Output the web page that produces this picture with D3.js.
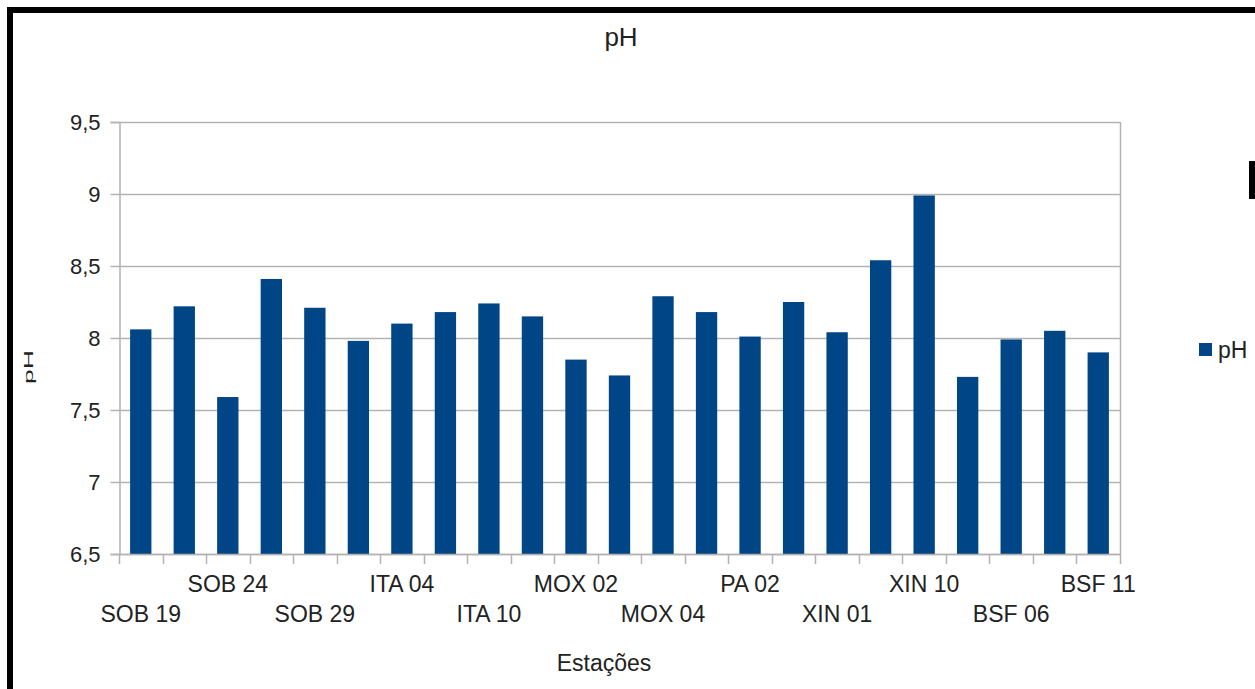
<!DOCTYPE html>
<html><head><meta charset="utf-8">
<script src="https://cdn.jsdelivr.net/npm/d3@7"></script>
<style>
html,body{margin:0;padding:0;background:#fff;}
svg{display:block;font-family:"Liberation Sans",Arial,sans-serif;}
</style></head>
<body>
<svg id="c" width="1255" height="689"></svg>
<script>
const categories = ["SOB 19","SOB 22","SOB 24","SOB 27","SOB 29","ITA 01","ITA 04","ITA 07","ITA 10","MOX 01","MOX 02","MOX 03","MOX 04","PA 01","PA 02","PA 03","XIN 01","XIN 05","XIN 10","BSF 02","BSF 06","BSF 09","BSF 11"];
const phValues = [8.06,8.22,7.59,8.41,8.21,7.98,8.10,8.18,8.24,8.15,7.85,7.74,8.29,8.18,8.01,8.25,8.04,8.54,8.99,7.73,7.99,8.05,7.90];
const yTicks = [6.5,7,7.5,8,8.5,9,9.5];
const seriesName = "pH";
const chartTitle = "pH";
const xTitle = "Estações";
const yTitle = "pH";

const svg = d3.select("#c");
const W = 1255, H = 689;
svg.append("rect").attr("width",W).attr("height",H).attr("fill","#fff");

const m = {left:119, right:1120, top:122, bottom:554};
const x = d3.scaleBand().domain(categories).range([m.left,m.right]).paddingInner(0).paddingOuter(0);
const y = d3.scaleLinear().domain([6.5,9.5]).range([m.bottom,m.top]);
const grid = "#b3b3b3";
const barColor = "#004586";
const txt = "#222";

// gridlines
svg.append("g").selectAll("line").data(yTicks).join("line")
  .attr("x1",m.left).attr("x2",m.right)
  .attr("y1",d=>Math.round(y(d))+0.5).attr("y2",d=>Math.round(y(d))+0.5)
  .attr("stroke",grid).attr("stroke-width",1.5);
// right border
svg.append("line").attr("x1",m.right+0.5).attr("x2",m.right+0.5).attr("y1",m.top).attr("y2",m.bottom)
  .attr("stroke",grid).attr("stroke-width",1.5);

// bars
const bw = x.bandwidth()*0.49;
svg.append("g").selectAll("rect").data(categories).join("rect")
  .attr("x",(d)=>x(d)+x.bandwidth()/2-bw/2)
  .attr("width",bw)
  .attr("y",(d,i)=>y(phValues[i]))
  .attr("height",(d,i)=>y(6.5)-y(phValues[i]))
  .attr("fill",barColor);

// y axis
const yAxis = d3.axisLeft(y).tickValues(yTicks).tickSize(9).tickPadding(10)
  .tickFormat(d=>String(d).replace(".",","));
const gy = svg.append("g").attr("transform",`translate(${m.left+0.5},0)`).call(yAxis);
gy.select(".domain").attr("stroke",grid).attr("stroke-width",1.5);
gy.selectAll(".tick line").attr("stroke",grid).attr("stroke-width",1.5);
gy.selectAll(".tick text").attr("font-size",22).attr("fill",txt)
  .attr("font-family","'Liberation Sans',Arial,sans-serif").attr("dy","0.36em");

// x axis (labels)
const xAxis = d3.axisBottom(x).tickSize(0).tickPadding(0)
  .tickFormat((d,i)=> i%2===0 ? d : "");
const gx = svg.append("g").attr("transform",`translate(0,${m.bottom})`).call(xAxis);
gx.select(".domain").remove();
gx.selectAll(".tick text").attr("font-size",23).attr("fill",txt)
  .attr("font-family","'Liberation Sans',Arial,sans-serif")
  .attr("dy",null)
  .attr("y",(d,i)=> (i%4===0) ? 68 : 38);
svg.append("line").attr("x1",m.left).attr("x2",m.right+1).attr("y1",m.bottom+0.5).attr("y2",m.bottom+0.5)
  .attr("stroke",grid).attr("stroke-width",1.5);
// boundary ticks
const bounds = categories.map(c=>x(c)).concat([x.range()[1]]);
svg.append("g").selectAll("line").data(bounds).join("line")
  .attr("x1",d=>Math.round(d)+0.5).attr("x2",d=>Math.round(d)+0.5)
  .attr("y1",m.bottom).attr("y2",m.bottom+10)
  .attr("stroke",grid).attr("stroke-width",1.5);

// titles
svg.append("text").attr("x",621).attr("y",46).attr("text-anchor","middle")
  .attr("font-size",26).attr("fill",txt).text(chartTitle);
svg.append("text").attr("x",604).attr("y",671).attr("text-anchor","middle")
  .attr("font-size",23).attr("fill",txt).text(xTitle);
svg.append("text").attr("transform","translate(33,367) rotate(-90) scale(1.15,0.55)")
  .attr("text-anchor","middle").attr("font-size",23).attr("fill",txt).text(yTitle);

// legend
svg.append("rect").attr("x",1199).attr("y",343).attr("width",13).attr("height",13).attr("fill",barColor);
svg.append("text").attr("x",1218).attr("y",358).attr("font-size",23).attr("fill",txt).text(seriesName);

// black frame
svg.append("rect").attr("x",7).attr("y",7).attr("width",W-7).attr("height",6).attr("fill","#000");
svg.append("rect").attr("x",7).attr("y",7).attr("width",6).attr("height",H-7).attr("fill","#000");
svg.append("rect").attr("x",1249).attr("y",161).attr("width",6).attr("height",38).attr("fill","#000");
</script>
</body></html>
